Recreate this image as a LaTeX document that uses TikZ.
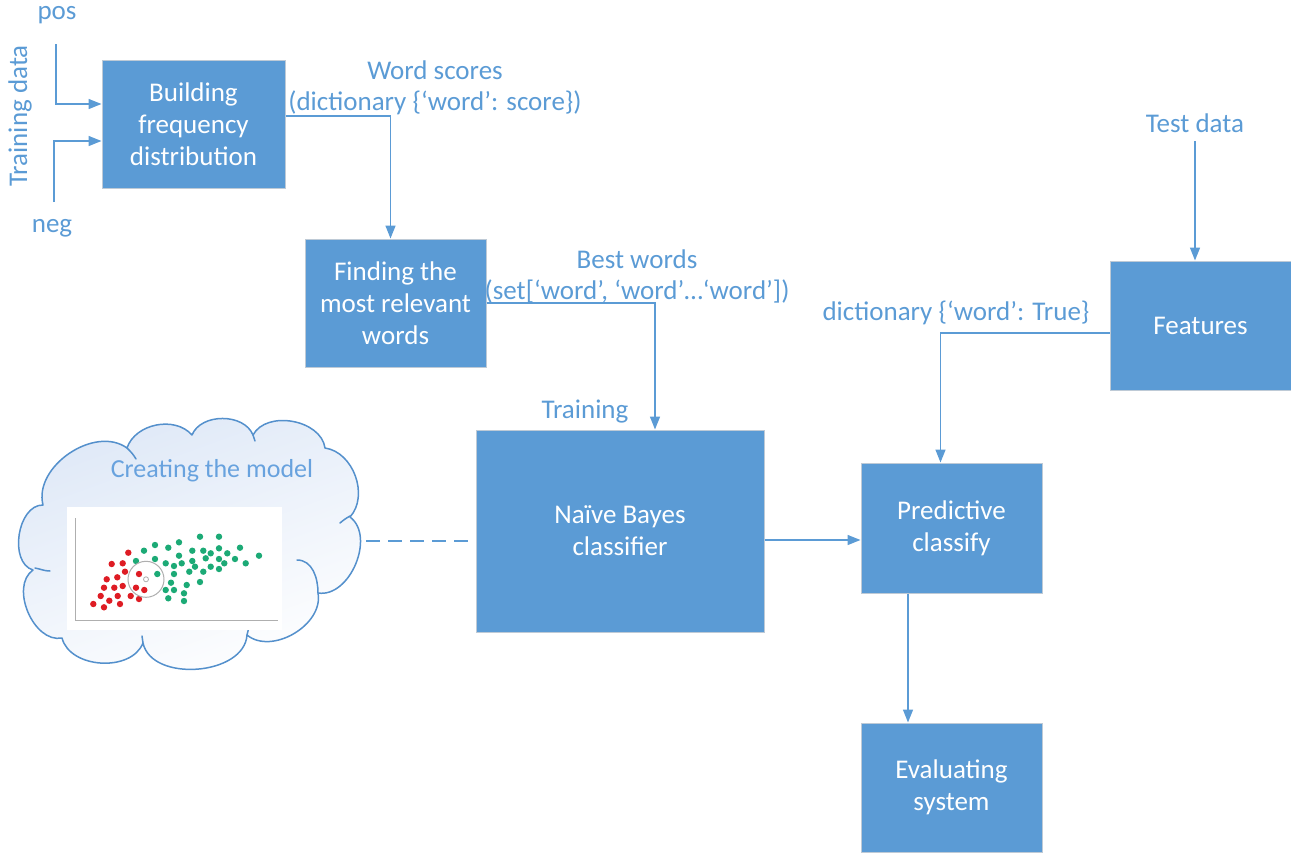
\documentclass[tikz,border=0pt]{standalone}
\usepackage{fontspec}
\setmainfont{Carlito}
\usetikzlibrary{arrows.meta,calc}
\definecolor{boxblue}{RGB}{91,155,213}
\definecolor{boxedge}{RGB}{190,202,214}
\definecolor{cloudedge}{RGB}{84,144,204}
\definecolor{cloudtop}{RGB}{222,232,247}
\definecolor{modeltext}{RGB}{104,162,222}
\definecolor{dotred}{RGB}{222,28,36}
\definecolor{dotgreen}{RGB}{28,170,118}
\definecolor{axisgray}{RGB}{175,175,175}
\begin{document}
\begin{tikzpicture}[x=1pt,y=-1pt,
  box/.style={fill=boxblue, draw=boxedge, line width=1pt, text=white, align=center,
    font=\fontsize{27}{32}\selectfont, inner sep=0pt},
  lbl/.style={text=boxblue, align=center, font=\fontsize{27}{31}\selectfont, inner sep=1pt},
  arr/.style={draw=boxblue, line width=1.5pt, -{Triangle[length=13pt,width=10pt]}},
  link/.style={draw=boxblue, line width=1.5pt},
  cloudline/.style={draw=cloudedge, line width=1.5pt, line join=round, line cap=round},
  reddot/.style={fill=dotred},
  greendot/.style={fill=dotgreen}]
\useasboundingbox (0,0) rectangle (1291,852);

% process boxes
\node[box, minimum width=183pt, minimum height=128pt] (build) at (193.5,124) {Building\\frequency\\distribution};
\node[box, minimum width=181pt, minimum height=128pt] (find) at (395.5,303) {Finding the\\most relevant\\words};
\node[box, minimum width=288pt, minimum height=202pt] (nb) at (620,531) {Naïve Bayes\\classifier};
\node[box, minimum width=181pt, minimum height=129pt] (feat) at (1200.5,325.5) {Features};
\node[box, minimum width=181pt, minimum height=130pt] (pred) at (951.5,528) {Predictive\\classify};
\node[box, minimum width=181pt, minimum height=129pt] (eval) at (951.5,787.5) {Evaluating\\system};

% input labels
\node[lbl] (pos) at (57,15) {pos};
\node[lbl] (neg) at (52,228) {neg};
\node[lbl, rotate=90] (train) at (20,116) {Training data};
\node[lbl] (test) at (1195,123) {Test data};

% connector labels
\node[lbl] (wscore) at (435,88) {Word scores\\(dictionary \{‘word’: score\})};
\node[lbl] (bwords) at (637,276) {Best words\\(set[‘word’, ‘word’…‘word’])};
\node[lbl] (trlbl) at (585,412) {Training};
\node[lbl] (dict) at (956,313) {dictionary \{‘word’: True\}};

% training data inputs
\coordinate (posend) at (56,44);
\coordinate (negend) at (54,202);
\draw[arr] (posend) |- ([yshift=20pt]build.west);
\draw[arr] (negend) |- ([yshift=-17pt]build.west);

% main flow
\draw[arr] ([yshift=8pt]build.east) -| ([xshift=-5pt]find.north);
\draw[arr] (find.east) -| ([xshift=35pt]nb.north);
\draw[arr] ([xshift=-5.5pt]feat.north |- 0,141) -- ([xshift=-5.5pt]feat.north);
\draw[arr] ([yshift=-7.5pt]feat.west) -| ([xshift=-11pt]pred.north);
\coordinate (nbout) at ([yshift=-9pt]nb.east);
\draw[arr] (nbout) -- (nbout -| pred.west);
\draw[arr] ([xshift=-43.5pt]pred.south) -- ([xshift=-43.5pt]eval.north);

% model cloud: eleven puffs, traced counter-clockwise from the left cusp
\path[cloudline, top color=cloudtop, bottom color=white, shading angle=20]
  (43,505) to[bend right=82] (33,570) to[bend right=78] (62,638)
  to[bend right=72] (143,643) to[bend right=82] (247,635)
  to[bend right=70] (318,593) to[bend right=76] (350,517)
  to[bend right=62] (325,448) to[bend right=72] (253,435)
  to[bend right=68] (192,435) to[bend right=60] (127,448)
  to[bend right=70] (43,505) -- cycle;
% inner strokes where the puffs overlap
\draw[cloudline] (297,560) to[out=0,in=90] (318,593);
\draw[cloudline] (127,448) to[out=-45,in=120] (136,459);
\draw[cloudline] (35,568) to[out=-10,in=180] (50,571);
\draw[cloudline] (350,516) to[out=-150,in=40] (340,523);
\draw[cloudline] (143,643) -- (142,636);
\draw[cloudline] (247,635) -- (249,627);
\draw[cloudline] (253,435) -- (255,441);
\coordinate (cloudR) at (366,541);

\node[text=modeltext, font=\fontsize{26}{30}\selectfont] (model) at (212,471) {Creating the model};

% scatter plot inside the cloud
\fill[white] (67,507) rectangle (282,630);
\draw[axisgray, line width=1pt] (75,518) -- (75,620) -- (278,620);
\foreach \px/\py in {128.3/552.7,111.7/564,122.7/563.3,125/571.7,139/574,106.7/579.3,
  117.3/577.3,104/587.7,114.3/587.7,122.7/586,136/587.7,144.3/590,100.7/596,117.7/596,
  130.7/596,139/599,109.3/600.7,93.3/604,104/607.3,120/604}
  \fill[reddot] (\px,\py) circle (3.2pt);
\foreach \px/\py in {200/536.7,219/536.7,179/542.3,155/545,144/550.7,168.3/547.7,
  192.3/550.7,203.3/550.7,219/548.3,240/547.7,210.7/553.3,227.3/553.3,179/555.7,
  259/555.7,205.7/558.3,219/559,235/559,136/561,155/559,165.7/563.3,174/566,181.7/563.3,
  192.3/561,195/566.7,210.7/566.7,224.3/563.3,245.7/563.3,219/569,174/574,189.3/571.7,
  203.3/571.7,157.3/574,171/582.7,186.7/585,200/582,165.7/590,174/590,184/593.3,
  168.3/598.3,184/601}
  \fill[greendot] (\px,\py) circle (3.2pt);
\draw[axisgray, line width=1pt] (146,579.3) circle (18pt);
\draw[axisgray, line width=0.8pt] (146,579.3) circle (2.5pt);

% association between the model and the classifier
\draw[link, dashed, dash pattern=on 14pt off 8pt] (cloudR) -- (cloudR -| nb.west);
\end{tikzpicture}
\end{document}
